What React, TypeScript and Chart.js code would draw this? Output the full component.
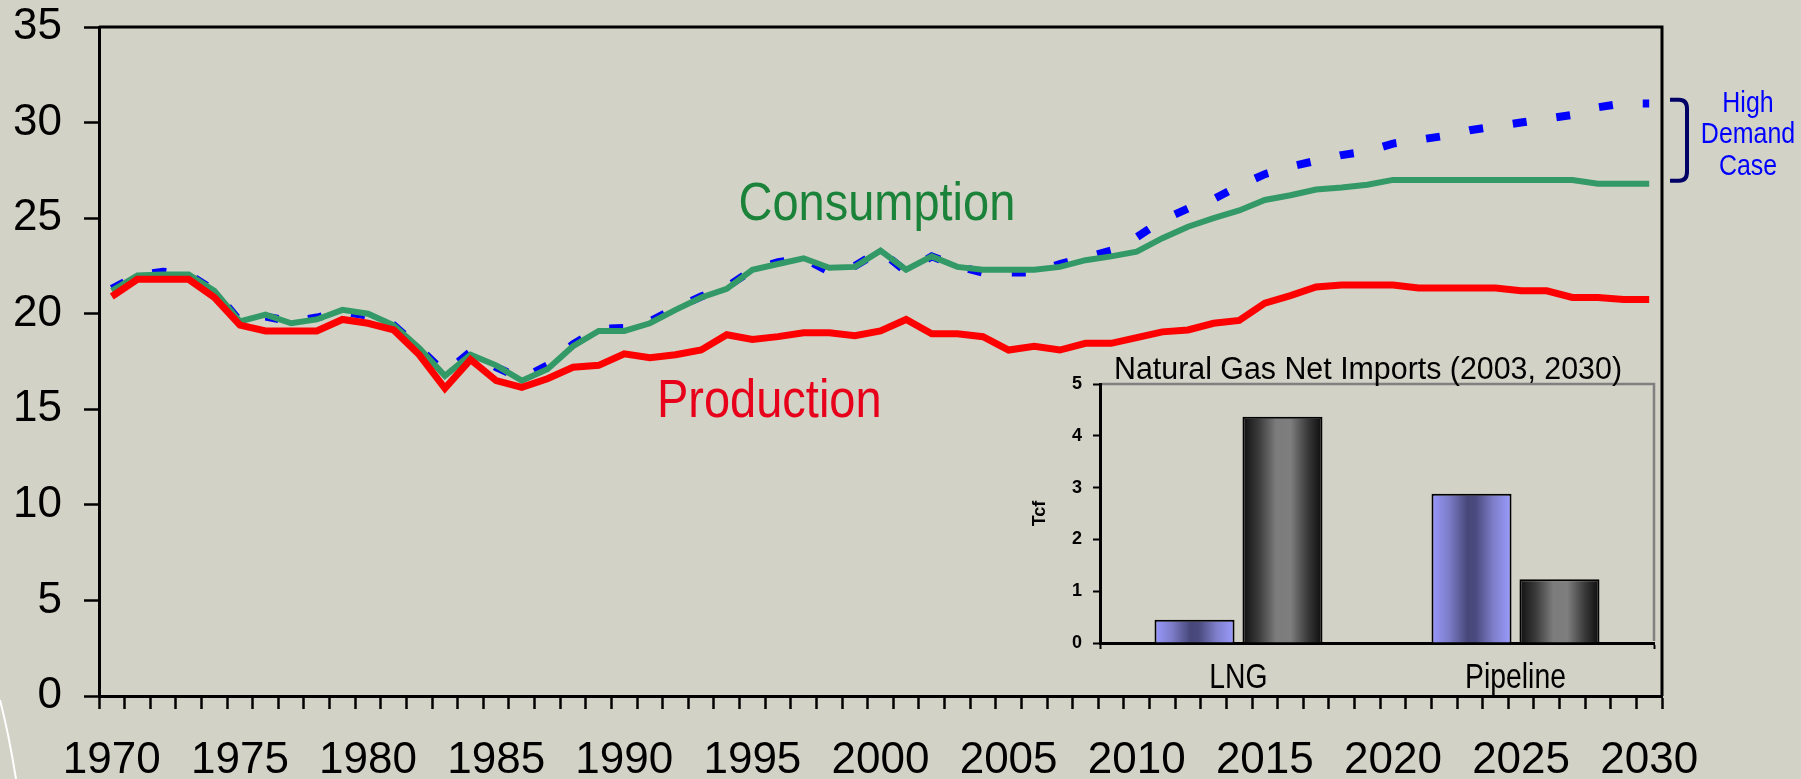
import React, { useEffect, useRef } from 'react';
import { Chart, registerables } from 'chart.js';

Chart.register(...registerables);

const BG = '#D2D2C6';

const years: string[] = [
  '1970', '1971', '1972', '1973', '1974', '1975', '1976', '1977', '1978', '1979',
  '1980', '1981', '1982', '1983', '1984', '1985', '1986', '1987', '1988', '1989',
  '1990', '1991', '1992', '1993', '1994', '1995', '1996', '1997', '1998', '1999',
  '2000', '2001', '2002', '2003', '2004', '2005', '2006', '2007', '2008', '2009',
  '2010', '2011', '2012', '2013', '2014', '2015', '2016', '2017', '2018', '2019',
  '2020', '2021', '2022', '2023', '2024', '2025', '2026', '2027', '2028', '2029',
  '2030',
];

const consumption: number[] = [
  21.2, 22.0, 22.05, 22.05, 21.2, 19.6, 19.95, 19.5, 19.7, 20.2,
  20.0, 19.4, 18.2, 16.75, 17.85, 17.3, 16.5, 17.1, 18.3, 19.1,
  19.1, 19.5, 20.2, 20.85, 21.3, 22.3, 22.6, 22.9, 22.4, 22.45,
  23.3, 22.3, 23.0, 22.45, 22.3, 22.3, 22.3, 22.45, 22.8, 23.0,
  23.25, 23.95, 24.55, 25.0, 25.4, 25.95, 26.2, 26.5, 26.6, 26.75,
  27.0, 27.0, 27.0, 27.0, 27.0, 27.0, 27.0, 27.0, 26.8, 26.8,
  26.8,
];

const production: number[] = [
  20.9, 21.8, 21.8, 21.8, 20.85, 19.4, 19.1, 19.1, 19.1, 19.7,
  19.5, 19.15, 17.85, 16.1, 17.6, 16.5, 16.15, 16.6, 17.2, 17.3,
  17.9, 17.7, 17.85, 18.1, 18.9, 18.65, 18.8, 19.0, 19.0, 18.85,
  19.1, 19.7, 18.95, 18.95, 18.8, 18.1, 18.3, 18.1, 18.45, 18.45,
  18.75, 19.05, 19.15, 19.5, 19.65, 20.55, 20.95, 21.4, 21.5, 21.5,
  21.5, 21.35, 21.35, 21.35, 21.35, 21.2, 21.2, 20.85, 20.85, 20.75,
  20.75,
];

const highDemand: number[] = [
  21.3, 22.0, 22.2, 22.05, 21.2, 19.6, 19.85, 19.6, 19.8, 20.1,
  19.9, 19.4, 18.2, 16.9, 18.0, 17.2, 16.6, 17.3, 18.4, 19.2,
  19.25, 19.6, 20.3, 20.9, 21.4, 22.3, 22.7, 22.9, 22.2, 22.5,
  23.3, 22.2, 23.0, 22.5, 22.15, 22.15, 22.15, 22.6, 22.95, 23.3,
  24.0, 24.9, 25.5, 26.0, 26.7, 27.3, 27.7, 28.0, 28.3, 28.5,
  28.9, 29.1, 29.3, 29.6, 29.8, 30.0, 30.2, 30.4, 30.8, 31.0,
  31.0,
];

const yTickValues: number[] = [0, 5, 10, 15, 20, 25, 30, 35];

const insetCategories: string[] = ['LNG', 'Pipeline'];
const imports2003: number[] = [0.45, 2.88];
const imports2030: number[] = [4.37, 1.23];
const insetTitle = 'Natural Gas Net Imports (2003, 2030)';
const insetAxisTitle = 'Tcf';

const SANS = '"Liberation Sans", Arial, Helvetica, sans-serif';

function narrowText(
  ctx: CanvasRenderingContext2D,
  text: string,
  cx: number,
  baseline: number,
  size: number,
  color: string,
  sx: number,
) {
  ctx.save();
  ctx.font = `${size}px ${SANS}`;
  ctx.fillStyle = color;
  ctx.textAlign = 'center';
  ctx.textBaseline = 'alphabetic';
  ctx.translate(cx, baseline);
  ctx.scale(sx, 1);
  ctx.fillText(text, 0, 0);
  ctx.restore();
}

const mainDecor = {
  id: 'mainDecor',
  afterDraw(chart: any) {
    const { ctx, chartArea: a } = chart;
    const x = chart.scales.x;
    const y = chart.scales.y;
    ctx.save();
    // frame top / right
    ctx.strokeStyle = '#000';
    ctx.lineWidth = 3;
    ctx.beginPath();
    ctx.moveTo(a.left, a.top);
    ctx.lineTo(a.right, a.top);
    ctx.lineTo(a.right, a.bottom);
    ctx.stroke();

    narrowText(ctx, 'Consumption', x.getPixelForValue(29.86), y.getPixelForValue(24.9), 54, '#1B8339', 0.87);
    narrowText(ctx, 'Production', x.getPixelForValue(25.66), y.getPixelForValue(14.6), 54, '#E8001A', 0.87);

    const hx = a.right + 86;
    narrowText(ctx, 'High', hx, y.getPixelForValue(30.55), 29, '#0000FF', 0.86);
    narrowText(ctx, 'Demand', hx, y.getPixelForValue(28.93), 29, '#0000FF', 0.86);
    narrowText(ctx, 'Case', hx, y.getPixelForValue(27.26), 29, '#0000FF', 0.86);

    // bracket
    const bt = y.getPixelForValue(31.2);
    const bb = y.getPixelForValue(26.95);
    const bl = a.right + 8;
    const br = a.right + 25;
    ctx.strokeStyle = '#000066';
    ctx.lineWidth = 4;
    ctx.beginPath();
    ctx.moveTo(bl, bt);
    ctx.lineTo(br - 8, bt);
    ctx.quadraticCurveTo(br, bt, br, bt + 9);
    ctx.lineTo(br, bb - 9);
    ctx.quadraticCurveTo(br, bb, br - 8, bb);
    ctx.lineTo(bl, bb);
    ctx.stroke();

    // decorative slide curve
    ctx.strokeStyle = '#FFFFFF';
    ctx.lineWidth = 2;
    ctx.beginPath();
    ctx.moveTo(0, 700);
    ctx.quadraticCurveTo(9, 735, 16, 779);
    ctx.stroke();
    ctx.restore();
  },
};

const insetDecor = {
  id: 'insetDecor',
  afterDraw(chart: any) {
    const { ctx, chartArea: a } = chart;
    const xs = chart.scales.x;
    ctx.save();
    ctx.strokeStyle = '#808080';
    ctx.lineWidth = 2.5;
    ctx.beginPath();
    ctx.moveTo(a.left + 2, a.top);
    ctx.lineTo(a.right, a.top);
    ctx.lineTo(a.right, a.bottom - 2);
    ctx.stroke();

    // title
    ctx.font = `31px ${SANS}`;
    const w = ctx.measureText(insetTitle).width;
    const sx = 508 / w;
    ctx.fillStyle = '#000';
    ctx.textAlign = 'center';
    ctx.textBaseline = 'alphabetic';
    ctx.translate((a.left + a.right) / 2 - 9, a.top - 5);
    ctx.scale(sx, 1);
    ctx.fillText(insetTitle, 0, 0);
    ctx.restore();

    // category labels (narrow face)
    insetCategories.forEach((lab, i) => {
      narrowText(ctx, lab, xs.getPixelForValue(i), a.bottom + 45, 35, '#000', 0.81);
    });

    ctx.save();
    ctx.font = `bold 18px ${SANS}`;
    ctx.fillStyle = '#000';
    ctx.textAlign = 'center';
    ctx.textBaseline = 'middle';
    ctx.translate(a.left - 60, (a.top + a.bottom) / 2);
    ctx.rotate(-Math.PI / 2);
    ctx.fillText(insetAxisTitle, 0, 0);
    ctx.restore();
  },
};

const CAT_PCT = 0.635;
const BAR_PCT = 0.91;

function barGradient(stops: [number, string][]) {
  return (c: any) => {
    const chart = c.chart;
    const xs = chart.scales && chart.scales.x;
    if (!xs || c.type !== 'data' || !xs.width) return stops[0][1];
    const n = chart.data.labels.length;
    const nd = chart.data.datasets.length;
    const cat = xs.width / n;
    const center = xs.getPixelForValue(c.dataIndex);
    const slot = (cat * CAT_PCT) / nd;
    const start = center - (cat * CAT_PCT) / 2 + slot * c.datasetIndex;
    const bw = slot * BAR_PCT;
    const left = start + (slot - bw) / 2;
    const g = chart.ctx.createLinearGradient(left, 0, left + bw, 0);
    stops.forEach(([o, col]) => g.addColorStop(o, col));
    return g;
  };
}

export default function App() {
  const mainRef = useRef<HTMLCanvasElement>(null);
  const insetRef = useRef<HTMLCanvasElement>(null);

  useEffect(() => {
    document.body.style.margin = '0';
    document.body.style.background = BG;
    document.body.style.overflow = 'hidden';
    Chart.defaults.font.family = SANS;

    const main = new Chart(mainRef.current as HTMLCanvasElement, {
      type: 'line',
      data: {
        labels: years,
        datasets: [
          {
            label: 'Production',
            data: production,
            borderColor: '#FF0000',
            borderWidth: 7,
            pointRadius: 0,
            tension: 0,
            order: 0,
          },
          {
            label: 'Consumption',
            data: consumption,
            borderColor: '#339966',
            borderWidth: 6,
            pointRadius: 0,
            tension: 0,
            order: 1,
          },
          {
            label: 'High Demand Case',
            data: highDemand,
            borderColor: '#0000FF',
            borderWidth: 8,
            borderDash: [14, 30],
            pointRadius: 0,
            tension: 0,
            order: 2,
          },
        ],
      },
      options: {
        responsive: false,
        animation: false,
        events: [],
        layout: { padding: { top: 27, right: 139, left: 0, bottom: 0 } },
        plugins: { legend: { display: false }, tooltip: { enabled: false } },
        scales: {
          x: {
            type: 'category',
            offset: true,
            afterFit(s: any) {
              s.height = 83;
            },
            grid: {
              display: true,
              offset: true,
              drawOnChartArea: false,
              drawTicks: true,
              tickLength: 13,
              tickWidth: 2.5,
              tickColor: '#000',
              color: '#000',
            },
            border: { display: true, color: '#000', width: 3 },
            ticks: {
              autoSkip: false,
              maxRotation: 0,
              minRotation: 0,
              padding: 25,
              color: '#000',
              font: { size: 44, family: SANS },
              callback: (_v: any, i: number) => (Number(years[i]) % 5 === 0 ? years[i] : ''),
            },
          },
          y: {
            min: 0,
            max: 35,
            afterFit(s: any) {
              s.width = 99;
              s.paddingTop = 0;
              s.paddingBottom = 0;
            },
            afterBuildTicks(s: any) {
              s.ticks = yTickValues.map((v) => ({ value: v }));
            },
            grid: {
              display: true,
              drawOnChartArea: false,
              drawTicks: true,
              tickLength: 15,
              tickWidth: 2.5,
              tickColor: '#000',
              color: '#000',
            },
            border: { display: true, color: '#000', width: 3 },
            ticks: {
              padding: 22,
              color: '#000',
              font: { size: 44, family: SANS },
            },
          },
        },
      },
      plugins: [mainDecor],
    });

    const inset = new Chart(insetRef.current as HTMLCanvasElement, {
      type: 'bar',
      data: {
        labels: insetCategories,
        datasets: [
          {
            label: '2003',
            data: imports2003,
            backgroundColor: barGradient([
              [0, '#9999FF'],
              [0.22, '#7C7CC8'],
              [0.45, '#47477A'],
              [0.55, '#4A4A7E'],
              [0.78, '#7F7FCC'],
              [1, '#9C9CFF'],
            ]),
            borderColor: '#000',
            borderWidth: 2,
            categoryPercentage: CAT_PCT,
            barPercentage: BAR_PCT,
          },
          {
            label: '2030',
            data: imports2030,
            backgroundColor: barGradient([
              [0, '#101010'],
              [0.2, '#3A3A3A'],
              [0.42, '#7C7C7C'],
              [0.6, '#7E7E7E'],
              [0.82, '#383838'],
              [1, '#0C0C0C'],
            ]),
            borderColor: '#000',
            borderWidth: 2,
            categoryPercentage: CAT_PCT,
            barPercentage: BAR_PCT,
          },
        ],
      },
      options: {
        responsive: false,
        animation: false,
        events: [],
        layout: { padding: { top: 39, right: 11, left: 0, bottom: 0 } },
        plugins: { legend: { display: false }, tooltip: { enabled: false } },
        scales: {
          x: {
            offset: true,
            afterFit(s: any) {
              s.height = 57;
            },
            grid: {
              display: true,
              offset: true,
              drawOnChartArea: false,
              drawTicks: true,
              tickLength: 6,
              tickWidth: 2,
              tickColor: (c: any) => (c.index === 1 ? 'rgba(0,0,0,0)' : '#000'),
            },
            border: { display: true, color: '#000', width: 3 },
            ticks: { display: false },
          },
          y: {
            min: 0,
            max: 5,
            afterFit(s: any) {
              s.width = 100;
            },
            grid: {
              display: true,
              drawOnChartArea: false,
              drawTicks: true,
              tickLength: 7,
              tickWidth: 2,
              tickColor: '#000',
            },
            border: { display: true, color: '#000', width: 3 },
            ticks: {
              stepSize: 1,
              padding: 11,
              color: '#000',
              font: { size: 18, weight: 'bold', family: SANS },
            },
          },
        },
      },
      plugins: [insetDecor],
    });

    return () => {
      main.destroy();
      inset.destroy();
    };
  }, []);

  return (
    <div style={{ position: 'relative', width: 1801, height: 779, background: BG, overflow: 'hidden' }}>
      <canvas ref={mainRef} width={1801} height={779} style={{ position: 'absolute', left: 0, top: 0 }} />
      <canvas ref={insetRef} width={665} height={355} style={{ position: 'absolute', left: 1000, top: 345 }} />
    </div>
  );
}
